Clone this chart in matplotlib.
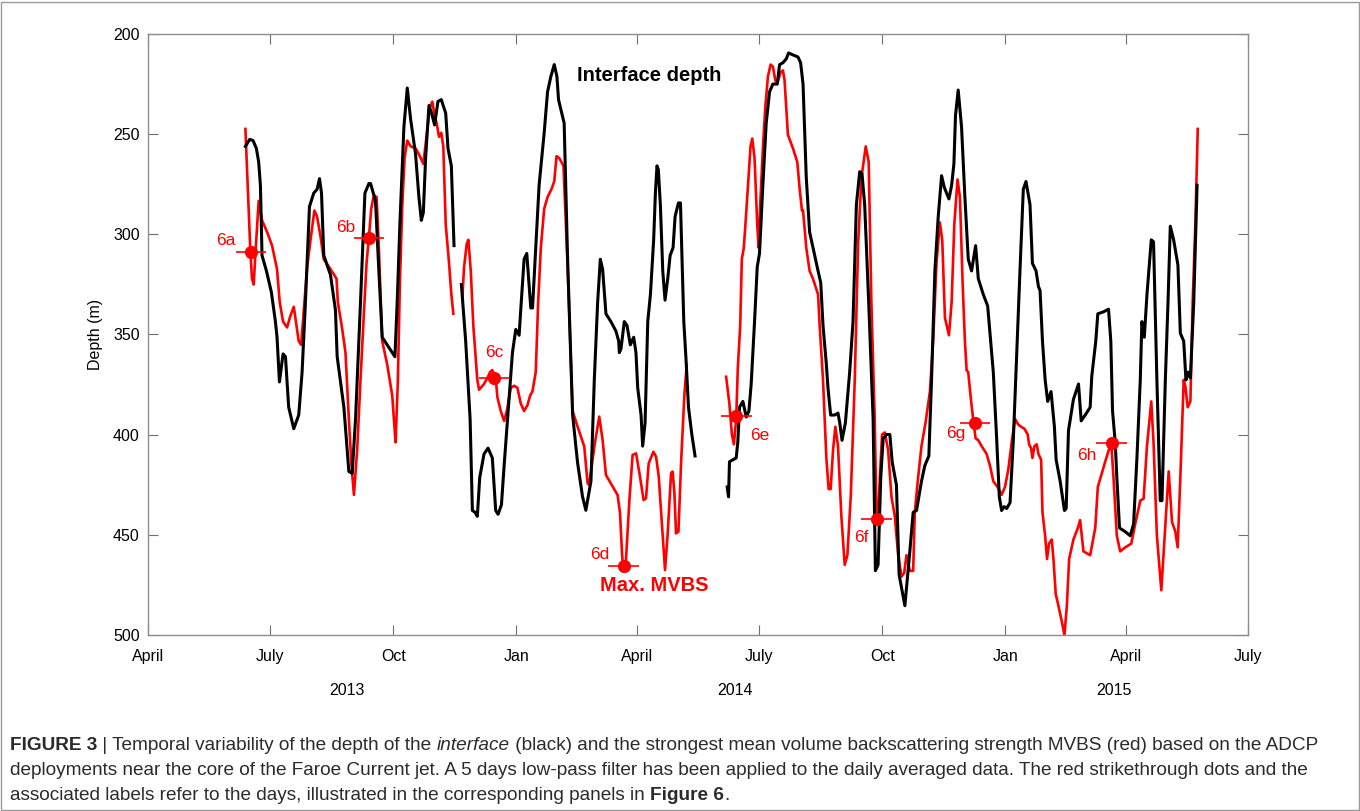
import matplotlib
matplotlib.use("Agg")
import matplotlib.pyplot as plt
import matplotlib.transforms as mtransforms
from matplotlib.patches import Rectangle
import numpy as np
import pandas as pd

plt.rcParams['font.family'] = ['Liberation Sans', 'DejaVu Sans']

START = pd.Timestamp("2013-04-01")

# days since 2013-04-01, depth (m) -- three ADCP deployments
black_day_1 = [72.7, 75.9, 78.4, 80.9, 82.6, 83.9, 85.1, 88.4, 92.1, 95.1, 96.3, 98.1, 100.8, 102.6,
               105.0, 108.8, 112.5, 115.0, 117.5, 120.5, 123.7, 126.2, 128.0, 129.5, 131.2, 136.2,
               139.9, 141.2, 146.2, 149.9, 152.4, 154.9, 158.6, 161.9, 164.9, 166.1, 169.8, 172.3,
               174.8, 184.3, 186.0, 188.0, 191.0, 193.5, 196.0, 199.7, 202.2, 204.0, 205.5, 207.2,
               209.7, 211.7, 213.9, 216.4, 218.9, 222.2, 223.9, 226.4, 228.4]
black_depth_1 = [256.3, 252.8, 253.4, 257.3, 264.1, 275.7, 310.7, 318.4, 329.1, 343.7, 351.5, 373.8, 359.8, 361.2,
                 386.4, 397.1, 390.3, 369.0, 334.0, 286.4, 279.6, 277.7, 272.4, 279.6, 310.7, 320.4,
                 337.9, 361.2, 386.4, 418.4, 419.4, 392.2, 334.0, 279.6, 274.8, 274.8, 283.5, 318.4,
                 351.5, 361.2, 334.0, 295.1, 246.6, 227.2, 242.7, 260.2, 281.6, 293.2, 289.3, 262.1,
                 235.9, 239.8, 245.6, 233.9, 233.0, 239.8, 257.3, 266.0, 305.8]

black_day_2 = [233.9, 237.1, 240.4, 242.1, 244.1, 245.8, 247.6, 250.8, 253.8, 257.0, 259.5, 261.3, 263.8,
               265.8, 268.8, 272.0, 274.5, 277.0, 278.2, 280.7, 282.7, 285.7, 287.0, 289.4, 291.9,
               295.7, 298.2, 300.7, 303.2, 305.2, 306.4, 310.6, 313.1, 316.9, 320.6, 324.3, 326.8,
               330.6, 333.1, 335.6, 337.6, 339.3, 341.8, 345.5, 349.3, 351.3, 351.8, 353.0, 355.5,
               357.5, 360.0, 362.5, 364.2, 365.5, 368.0, 369.2, 371.0, 373.0, 375.0, 377.4, 378.7,
               379.9, 380.9, 382.4, 384.2, 385.9, 387.9, 389.7, 391.9, 393.4, 395.9, 397.4, 399.9,
               401.6, 403.4, 405.9, 408.3]
black_depth_2 = [325.2, 353.4, 392.2, 437.9, 438.8, 440.8, 421.4, 409.7, 406.8, 411.7, 437.9, 439.8, 435.0,
                 415.5, 388.3, 359.2, 347.6, 350.5, 337.9, 312.6, 309.7, 336.9, 336.9, 306.8, 275.7,
                 249.5, 229.1, 221.4, 215.5, 221.4, 233.0, 244.7, 310.7, 390.0, 414.0, 431.0, 437.8,
                 423.3, 372.8, 334.0, 312.6, 317.5, 339.8, 343.7, 348.5, 353.4, 359.2, 357.3, 343.7,
                 345.6, 355.3, 351.5, 359.2, 376.7, 390.3, 405.8, 394.2, 343.7, 330.1, 302.9, 279.6,
                 266.0, 267.9, 285.4, 318.4, 333.0, 322.3, 310.7, 306.8, 291.3, 284.5, 284.5, 343.7,
                 363.1, 386.4, 400.0, 410.7]

black_day_3 = [432.3, 433.3, 434.0, 436.5, 439.0, 440.2, 441.5, 444.0, 446.5, 448.5, 450.2, 452.7, 454.7,
               456.4, 458.9, 461.4, 463.9, 466.4, 469.6, 471.4, 473.9, 476.4, 478.1, 481.4, 485.1,
               487.1, 488.9, 491.3, 493.8, 496.3, 500.1, 502.1, 503.8, 506.3, 507.5, 509.5, 512.5,
               515.0, 516.3, 518.0, 520.5, 523.7, 526.2, 528.7, 531.2, 532.9, 534.9, 537.9, 541.2,
               542.9, 544.9, 546.9, 548.7, 551.2, 553.7, 555.4, 558.6, 560.6, 564.9, 568.6, 571.1,
               573.6, 577.3, 579.8, 582.8, 584.8, 587.3, 589.8, 592.3, 594.3, 597.8, 599.8, 601.5,
               602.7, 604.7, 607.2, 609.7, 612.2, 614.7, 617.7, 619.7, 623.4, 626.7, 628.4, 630.9,
               633.4, 635.4, 637.1, 639.1, 640.9, 643.4, 645.9, 648.4, 650.8, 653.3, 655.3, 658.3,
               660.1, 662.8, 664.6, 665.8, 667.6, 669.6, 671.5, 674.0, 676.5, 677.8, 680.8, 684.0,
               685.3, 687.0, 690.7, 694.5, 696.5, 699.5, 703.2, 704.4, 707.4, 708.9, 713.2, 716.9,
               718.6, 719.9, 721.9, 723.1, 725.1, 729.4, 733.1, 735.6, 738.1, 740.6, 741.8, 743.6,
               745.6, 748.8, 750.5, 753.0, 755.5, 756.8, 759.3, 761.3, 763.0, 765.5, 768.7, 770.5,
               773.0, 774.7, 776.2, 778.0, 780.5, 783.0]
black_depth_3 = [426.2, 431.1, 413.6, 412.6, 411.7, 403.9, 386.4, 383.5, 391.3, 388.3, 374.8, 343.7, 316.5,
                 309.7, 275.7, 244.7, 229.1, 225.2, 225.2, 215.5, 214.6, 212.6, 209.7, 210.7, 211.7,
                 214.6, 225.2, 271.8, 299.0, 306.8, 318.4, 324.3, 345.6, 365.0, 376.7, 390.3, 390.3,
                 389.3, 394.2, 402.9, 394.2, 368.9, 343.7, 285.4, 268.9, 269.9, 285.4, 334.0, 392.2,
                 467.9, 465.0, 421.4, 402.0, 400.0, 400.0, 413.6, 425.2, 469.9, 485.4, 458.3, 438.8,
                 437.9, 423.3, 415.5, 410.7, 372.8, 318.4, 291.3, 270.9, 276.7, 282.5, 275.7, 265.0,
                 240.8, 228.2, 246.6, 281.6, 312.6, 318.4, 305.8, 322.3, 330.1, 335.9, 349.5, 368.9,
                 402.0, 431.1, 437.9, 436.0, 436.9, 434.0, 402.0, 359.2, 318.4, 277.7, 273.8, 285.4,
                 314.6, 318.4, 326.2, 328.2, 353.4, 372.8, 383.5, 378.6, 396.1, 412.6, 423.3, 437.9,
                 436.9, 398.1, 382.5, 374.8, 393.2, 390.3, 386.4, 370.9, 353.4, 339.8, 338.8, 337.5,
                 353.4, 388.3, 403.9, 421.4, 446.6, 448.5, 450.5, 444.7, 411.7, 372.8, 343.7, 351.5,
                 330.1, 302.9, 303.9, 372.8, 433.0, 433.0, 372.8, 334.0, 296.1, 302.9, 315.5, 349.5,
                 353.4, 372.8, 368.9, 371.8, 334.0, 275.7]

red_day_1 = [72.7, 74.4, 76.4, 77.6, 78.9, 80.1, 82.6, 85.1, 88.9, 92.6, 96.3, 98.3, 100.8, 103.8, 106.3,
             108.8, 110.8, 112.5, 114.3, 116.3, 118.8, 121.3, 124.2, 126.2, 128.7, 131.2, 136.2, 140.7,
             141.7, 145.0, 147.4, 149.9, 151.9, 153.7, 156.1, 158.6, 161.1, 163.1, 164.8, 166.6, 168.6,
             170.6, 172.3, 174.8, 178.5, 182.3, 183.5, 184.8, 186.5, 188.0, 189.8, 191.5, 193.5, 196.0,
             199.7, 202.2, 205.5, 208.0, 210.4, 212.2, 213.9, 215.4, 217.2, 218.9, 220.4, 222.2, 224.7,
             226.4, 227.9]
red_depth_1 = [247.6, 275.7, 308.7, 322.3, 325.2, 310.7, 283.5, 293.2, 299.0, 305.8, 317.5, 334.0, 343.7,
               346.6, 340.8, 336.3, 345.6, 353.4, 355.3, 337.9, 316.5, 302.9, 288.3, 291.3, 301.0, 312.6,
               317.5, 322.3, 334.0, 347.6, 359.2, 392.2, 415.5, 430.1, 407.8, 372.8, 340.0, 314.6, 302.3,
               287.4, 280.6, 281.6, 306.8, 353.4, 365.0, 380.6, 392.2, 403.9, 372.8, 324.3, 285.4, 262.1,
               253.4, 256.3, 257.3, 260.2, 265.0, 250.5, 236.9, 234.0, 240.8, 244.7, 251.5, 249.5, 256.3,
               295.1, 314.6, 330.1, 339.8]

red_day_2 = [234.6, 235.9, 237.9, 239.1, 240.9, 242.8, 245.8, 247.1, 250.8, 253.3, 255.3, 257.0, 259.5,
             260.8, 263.3, 265.8, 267.8, 270.8, 273.3, 275.7, 278.2, 280.7, 283.2, 285.2, 286.9, 289.4,
             291.2, 293.2, 295.7, 298.2, 301.1, 303.2, 304.9, 306.9, 310.1, 313.1, 316.9, 320.6, 325.6,
             328.1, 329.3, 333.1, 336.8, 339.3, 341.8, 350.5, 352.3, 353.8, 354.8, 356.3, 359.3, 361.7,
             364.3, 367.2, 369.9, 371.7, 373.7, 377.2, 379.2, 381.2, 383.7, 385.9, 387.9, 390.4, 391.6,
             392.9, 394.1, 395.9, 397.9, 400.4, 402.1]
red_depth_2 = [332.0, 316.5, 304.9, 302.9, 318.4, 345.6, 372.8, 377.7, 374.8, 371.8, 368.9, 367.9, 371.8,
               381.5, 388.3, 393.2, 388.3, 376.7, 375.7, 376.7, 384.5, 388.3, 385.4, 380.6, 378.6, 368.9,
               334.0, 306.8, 287.4, 281.6, 277.7, 273.8, 261.2, 262.1, 266.0, 314.6, 388.3, 396.0, 406.0,
               424.3, 425.2, 406.1, 391.1, 402.7, 420.2, 430.2, 439.3, 459.3, 468.4, 467.6, 432.7, 410.2,
               409.4, 421.0, 432.7, 431.8, 414.4, 408.6, 411.1, 421.0, 446.0, 467.6, 449.3, 419.3, 418.5,
               429.3, 449.3, 448.5, 413.5, 379.5, 365.3]

red_day_3 = [431.5, 433.9, 435.8, 437.3, 439.0, 440.2, 442.0, 443.2, 444.7, 446.5, 448.2, 449.7, 451.0,
             452.7, 454.7, 455.7, 457.2, 459.0, 460.7, 462.7, 464.7, 466.4, 468.2, 469.6, 472.1, 473.9,
             475.1, 477.6, 481.4, 484.6, 486.4, 488.1, 488.9, 491.3, 493.8, 496.3, 500.1, 501.3, 503.8,
             506.3, 508.0, 509.5, 511.3, 513.0, 515.0, 517.5, 520.0, 522.0, 524.5, 527.5, 530.0, 532.5,
             534.5, 535.7, 537.9, 539.9, 542.4, 543.7, 544.9, 546.2, 547.9, 549.9, 552.4, 554.9, 557.4,
             559.9, 562.4, 564.4, 566.1, 568.6, 571.1, 572.3, 574.8, 577.3, 580.3, 583.6, 586.0, 588.5,
             591.0, 592.8, 594.8, 597.8, 599.8, 601.8, 604.2, 606.0, 608.0, 609.7, 611.0, 612.2, 614.2,
             616.0, 617.7, 619.7, 622.2, 625.9, 628.4, 630.9, 634.1, 637.1, 639.6, 642.1, 644.6, 647.1,
             649.6, 651.6, 654.1, 656.6, 657.6, 659.1, 660.1, 661.6, 663.3, 664.6, 666.6, 667.6, 669.6,
             671.0, 672.5, 674.5, 675.8, 677.5, 679.5, 682.0, 684.0, 685.8, 687.5, 690.7, 694.0, 695.7,
             698.2, 703.2, 707.0, 708.9, 714.4, 718.9, 720.6, 723.1, 725.6, 729.4, 733.9, 736.8, 740.6,
             743.1, 745.6, 748.8, 750.5, 753.0, 756.3, 758.8, 761.8, 764.3, 766.8, 768.5, 770.5, 773.0,
             774.2, 776.0, 778.0, 779.7, 781.7, 783.5]
red_depth_3 = [371.2, 384.5, 400.0, 404.9, 392.2, 367.0, 345.6, 312.6, 306.8, 289.3, 271.8, 256.3, 252.4,
               262.1, 295.1, 306.8, 281.6, 256.3, 236.9, 221.4, 215.5, 216.5, 223.3, 225.2, 219.4, 218.4,
               223.3, 250.5, 257.3, 264.1, 277.7, 288.3, 288.3, 306.8, 318.4, 322.3, 330.1, 345.6, 372.8,
               411.7, 427.2, 427.2, 407.8, 396.1, 405.8, 440.8, 465.0, 460.2, 431.1, 372.8, 304.9, 271.8,
               262.1, 256.3, 264.1, 334.0, 392.2, 440.8, 442.7, 421.4, 400.0, 399.0, 407.8, 431.1, 440.8,
               460.2, 470.9, 469.0, 460.2, 468.0, 468.0, 438.8, 421.4, 405.8, 394.2, 378.6, 353.4, 314.6,
               294.2, 303.0, 341.7, 350.5, 334.0, 295.1, 272.8, 281.6, 324.3, 353.4, 368.0, 369.0, 382.5,
               393.2, 401.9, 402.9, 405.8, 409.7, 415.5, 423.3, 426.2, 430.1, 426.2, 417.5, 403.9, 392.2,
               395.1, 396.1, 397.1, 400.0, 404.9, 406.8, 411.7, 405.8, 404.9, 409.7, 412.6, 438.8, 450.5,
               462.1, 454.4, 452.4, 462.1, 479.6, 485.4, 493.2, 500.0, 485.4, 462.1, 452.4, 446.6, 442.7,
               458.3, 460.2, 446.6, 426.2, 413.6, 403.9, 421.4, 450.5, 458.3, 456.3, 454.4, 444.7, 433.0,
               432.0, 405.8, 383.5, 403.9, 450.5, 477.7, 450.5, 418.4, 443.7, 448.5, 456.3, 421.4, 372.8,
               375.7, 386.4, 383.5, 334.0, 295.1, 247.6]

# days illustrated in Figure 6
panel_labels = ["6a", "6b", "6c", "6d", "6e", "6f", "6g", "6h"]
panel_day = [76.9, 164.9, 258.6, 355.0, 439.0, 543.8, 617.2, 719.4]
panel_depth = [309.1, 302.2, 371.6, 465.4, 390.8, 442.0, 394.2, 404.4]
label_offset = [(-18, 8.5), (-17, 8), (0, 18), (-17, 8), (17, -14), (-11, -13.5), (-14, -8), (-18, -8.5)]

month_ticks = ["2013-04-01", "2013-07-01", "2013-10-01", "2014-01-01", "2014-04-01", "2014-07-01",
               "2014-10-01", "2015-01-01", "2015-04-01", "2015-07-01"]
month_names = ["April", "July", "Oct", "Jan", "April", "July", "Oct", "Jan", "April", "July"]
years = ["2013", "2014", "2015"]
year_day = [148.4, 437.8, 721.1]


def to_dates(days):
    return START + pd.to_timedelta(np.asarray(days), unit="D")


W, H = 1360, 811
fig = plt.figure(figsize=(W / 100, H / 100), dpi=100)
ax = fig.add_axes([148 / W, 1 - 635 / H, 1100 / W, 601.5 / H])

for d, v in [(red_day_1, red_depth_1), (red_day_2, red_depth_2), (red_day_3, red_depth_3)]:
    ax.plot(to_dates(d), v, color="#ff0000", lw=1.9, solid_joinstyle="round")
for d, v in [(black_day_1, black_depth_1), (black_day_2, black_depth_2), (black_day_3, black_depth_3)]:
    ax.plot(to_dates(d), v, color="black", lw=2.2, solid_joinstyle="round")

pd_dates = to_dates(panel_day)
half = pd.Timedelta(days=11.5)
ax.hlines(panel_depth, pd_dates - half, pd_dates + half, color="#ff0000", lw=1.2)
ax.plot(pd_dates, panel_depth, "o", color="#ff0000", ms=8.5)
for lab, x, y, off in zip(panel_labels, pd_dates, panel_depth, label_offset):
    ax.annotate(lab, (x, y), xytext=off, textcoords="offset points", ha="center", va="center",
                color="#ff0000", fontsize=12.5)

ax.text(to_dates([373.7])[0], 221.1, "Interface depth", ha="center", va="center",
        fontsize=14.5, fontweight="bold", color="black")
ax.text(to_dates([377.6])[0], 475.3, "Max. MVBS", ha="center", va="center",
        fontsize=14.5, fontweight="bold", color="#ff0000")

ax.set_xlim(pd.Timestamp(month_ticks[0]), pd.Timestamp(month_ticks[-1]))
ax.set_ylim(500, 200)
ax.set_yticks(np.arange(200, 501, 50))
ax.set_xticks(pd.to_datetime(month_ticks))
ax.set_xticklabels(month_names)
ax.set_ylabel("Depth (m)", fontsize=11.5, labelpad=7)
ax.tick_params(direction="in", length=7, width=0.8, color="#6e6e6e", top=True, right=True,
               labelsize=11.5)
ax.tick_params(axis="x", pad=10)
ax.tick_params(axis="y", pad=6)
for s in ax.spines.values():
    s.set_color("#8c8c8c")
    s.set_linewidth(1.0)

trans = mtransforms.blended_transform_factory(ax.transData, ax.transAxes)
for yr, d in zip(years, year_day):
    ax.text(to_dates([d])[0], -0.0915, yr, transform=trans, ha="center", va="center", fontsize=11.5)

# figure frame
fig.patches.append(Rectangle((1 / W, 1 / H), 1 - 2.5 / W, 1 - 3 / H, transform=fig.transFigure,
                             fill=False, edgecolor="#9a9a9a", lw=1.0))

# caption with mixed styles
renderer = fig.canvas.get_renderer()
cap_size = 13.7
cap_color = "#2b2b2b"


def piece_width(txt, **kw):
    t1 = fig.text(0, 0, "I" + txt + "I", fontsize=cap_size, **kw)
    t2 = fig.text(0, 0, "II", fontsize=cap_size, **kw)
    w = t1.get_window_extent(renderer).width - t2.get_window_extent(renderer).width
    t1.remove()
    t2.remove()
    return w


def rich_line(y_px, parts):
    x = 10.0
    for txt, kw in parts:
        fig.text(x / W, 1 - y_px / H, txt, fontsize=cap_size, color=cap_color, ha="left",
                 va="baseline", **kw)
        x += piece_width(txt, **kw)


rich_line(750, [("FIGURE 3", dict(fontweight="bold")),
                (" | Temporal variability of the depth of the ", {}),
                ("interface", dict(fontstyle="italic")),
                (" (black) and the strongest mean volume backscattering strength MVBS (red) based on the ADCP", {})])
rich_line(775, [("deployments near the core of the Faroe Current jet. A 5 days low-pass filter has been applied "
                 "to the daily averaged data. The red strikethrough dots and the", {})])
rich_line(800, [("associated labels refer to the days, illustrated in the corresponding panels in ", {}),
                ("Figure 6", dict(fontweight="bold")),
                (".", {})])

fig.savefig("out.png", dpi=100, facecolor="white")
